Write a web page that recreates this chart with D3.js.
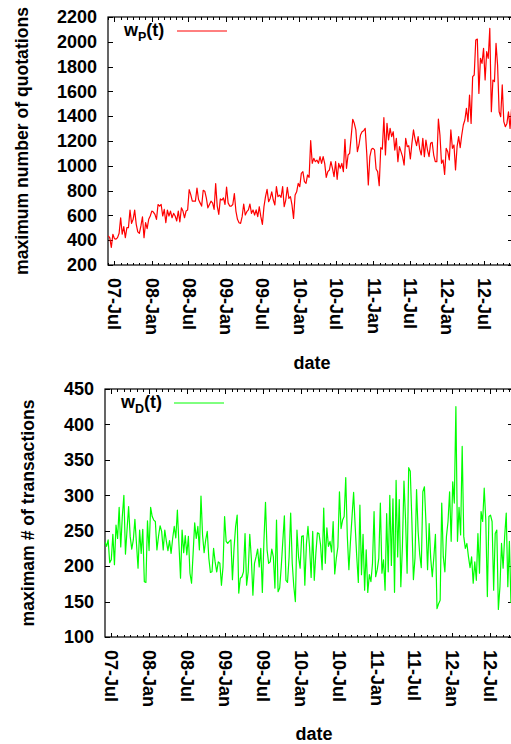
<!DOCTYPE html>
<html>
<head>
<meta charset="utf-8">
<script src="https://cdn.jsdelivr.net/npm/d3@7"></script>
<style>
body { margin: 0; background: #fff; }
svg text { font-family: "Liberation Sans", Arial, sans-serif; font-weight: bold; fill: #000; }
.tick text { font-size: 18px; }
</style>
</head>
<body>
<div class="chart"></div>
<script>
// maximum number of quotations, w_P(t) (evenly spaced samples)
var wpValues = [
  435, 421, 341, 448, 413, 408, 421, 456, 581, 448,
  509, 421, 501, 501, 643, 536, 568, 643, 528, 467,
  456, 515, 589, 421, 541, 493, 568, 595, 635, 627,
  608, 568, 688, 675, 688, 595, 648, 541, 643, 595,
  635, 581, 616, 595, 555, 635, 547, 661, 635, 581,
  635, 643, 808, 768, 715, 715, 715, 821, 728, 701,
  675, 803, 795, 741, 661, 688, 715, 701, 648, 856,
  675, 608, 733, 723, 741, 688, 829, 701, 675, 675,
  688, 776, 635, 568,
  541, 536, 590, 692, 603, 630, 644, 692, 617, 644,
  603, 644, 590, 670, 590, 528, 670, 751, 810, 711,
  737, 790, 724, 684, 832, 751, 764, 746, 832, 670,
  724, 826, 737, 751, 684, 576, 764, 790, 858, 832,
  939, 953, 872, 858, 926, 907, 1203, 1020, 1060, 1033,
  1046, 1020, 1074, 1020, 1074, 1020, 907, 953, 966, 1033,
  980, 912, 1033, 891, 1020, 980, 1020, 953, 1213, 980,
  1087, 1100, 1235, 1375, 1343, 1289, 1114, 1168, 1249, 1275,
  1283, 1302, 1100, 845, 1074, 1133, 1141, 1128,
  974, 953, 840, 1146, 1135, 1388, 1087, 1342, 1208, 1302,
  1235, 1275, 1127, 1221, 1033, 1154, 1114, 1074, 1006, 1221,
  1154, 1162, 1055, 1181, 1289, 1216, 1162, 1235, 1135, 1087,
  1221, 1074, 1208, 1127, 1074, 1181, 1189, 1087, 1033, 1033,
  1377, 1248, 1020, 1047, 931, 1141, 1114, 1047, 1289, 1141,
  1168, 966, 1154, 1235, 1146, 1248, 1329, 1369, 1463, 1356,
  1571, 1342, 1719, 1732, 2014, 2022, 1584, 1867, 1826, 1947,
  1692, 1920, 1867, 2108, 1436, 1692, 1679, 1987, 1813, 1436,
  1396, 1652, 1356, 1315, 1342, 1436, 1302, 1463
];

// maximum number of transactions, w_D(t)
var wdValues = [
  234, 228, 237, 205, 209, 245, 202, 258, 239, 283,
  227, 270, 300, 217, 251, 284, 242, 224, 237, 266,
  232, 197, 251, 218, 252, 178, 177, 264, 222, 283,
  270, 265, 263, 223, 242, 257, 249, 223, 251, 235,
  222, 236, 218, 239, 256, 240, 279, 231, 183, 251,
  219, 243, 216, 242, 190, 176, 218, 261, 239, 256,
  223, 299, 244, 219, 237, 249, 211, 191, 192, 225,
  206, 192, 206, 204, 173, 199, 270, 235, 232, 235,
  237, 181, 225, 256, 272,
  162, 183, 185, 192, 246, 173, 192, 245, 211, 159,
  204, 213, 224, 199, 225, 163, 235, 290, 223, 204,
  206, 224, 213, 169, 265, 164, 169, 199, 235, 271,
  180, 177, 213, 275, 204, 171, 150, 251, 213, 197,
  242, 243, 173, 231, 256, 227, 184, 249, 180, 218,
  247, 246, 230, 195, 282, 204, 254, 228, 235, 220,
  263, 189, 211, 227, 305, 253, 265, 270, 325, 242,
  195, 235, 270, 304, 256, 213, 177, 286, 188, 245,
  166, 223, 163, 188, 178, 204, 277, 185,
  195, 211, 289, 190, 209, 166, 274, 192, 300, 201,
  295, 163, 321, 213, 294, 171, 227, 320, 266, 190,
  339, 334, 266, 181, 211, 308, 249, 217, 198, 305,
  312, 260, 195, 260, 211, 185, 213, 245, 140, 147,
  152, 289, 213, 192, 242, 263, 305, 235, 319, 289,
  425, 235, 283, 244, 369, 242, 225, 232, 213, 198,
  213, 176, 206, 180, 246, 190, 277, 263, 310, 265,
  157, 270, 272, 263, 166, 246, 251, 139, 171, 232,
  197, 242, 275, 171, 235, 148
];

// first and last sample date of each series
var wpDates = ["2007-06-01", "2012-11-14"];
var wdDates = ["2007-06-02", "2012-10-10"];

var xTickLabels = ["07-Jul", "08-Jan", "08-Jul", "09-Jan", "09-Jul", "10-Jan",
                   "10-Jul", "11-Jan", "11-Jul", "12-Jan", "12-Jul"];
var wpYTicks = [200, 400, 600, 800, 1000, 1200, 1400, 1600, 1800, 2000, 2200];
var wdYTicks = [100, 150, 200, 250, 300, 350, 400, 450];

var parseDay = d3.timeParse("%Y-%m-%d");
var parseLabel = d3.timeParse("%y-%b");

/**
 * One gnuplot-like panel: framed box, inward ticks, rotated date labels
 */
function TimePanel(svg, cfg){
    var self = this;
    self.svg = svg;
    self.cfg = cfg;
    self.init();
};

TimePanel.prototype.init = function(){
    var self = this;
    var c = self.cfg;

    self.x = d3.scaleTime()
      .domain(c.xDomain.map(parseDay))
      .range([c.left, c.right]);

    self.y = d3.scaleLinear()
      .domain([c.yTicks[0], c.yTicks[c.yTicks.length - 1]])
      .range([c.bottom, c.top]);

    self.g = self.svg.append("g");
};

TimePanel.prototype.drawAxes = function(){
    var self = this;
    var c = self.cfg;
    var g = self.g;
    var noDomain = function(sel){ sel.select(".domain").remove(); };

    var majors = xTickLabels.map(parseLabel);
    var months = d3.timeMonth.range(self.x.domain()[0], self.x.domain()[1]);

    // monthly minor ticks, bottom and top
    g.append("g").attr("transform", "translate(0," + c.bottom + ")")
      .call(d3.axisBottom(self.x).tickValues(months).tickSize(-2.5).tickFormat(""))
      .call(noDomain);
    g.append("g").attr("transform", "translate(0," + c.top + ")")
      .call(d3.axisTop(self.x).tickValues(months).tickSize(-2.5).tickFormat(""))
      .call(noDomain);

    // half-year major ticks
    g.append("g").attr("transform", "translate(0," + c.bottom + ")")
      .call(d3.axisBottom(self.x).tickValues(majors).tickSize(-4.5)
        .tickFormat(function(d, i){ return xTickLabels[i]; }))
      .call(noDomain)
      .selectAll("text")
        .attr("transform", "rotate(90)")
        .attr("x", 13)
        .attr("y", 0)
        .attr("dy", "0.35em")
        .style("text-anchor", "start");
    g.append("g").attr("transform", "translate(0," + c.top + ")")
      .call(d3.axisTop(self.x).tickValues(majors).tickSize(-4.5).tickFormat(""))
      .call(noDomain);

    // y ticks left (labelled) and right
    g.append("g").attr("transform", "translate(" + c.left + ",0)")
      .call(d3.axisLeft(self.y).tickValues(c.yTicks).tickSize(-4.5).tickPadding(11)
        .tickFormat(d3.format("d")))
      .call(noDomain);
    g.append("g").attr("transform", "translate(" + c.right + ",0)")
      .call(d3.axisRight(self.y).tickValues(c.yTicks).tickSize(-4.5).tickFormat(""))
      .call(noDomain);

    g.selectAll(".tick line").attr("shape-rendering", "crispEdges");

    // frame
    g.append("rect")
      .attr("x", c.left)
      .attr("y", c.top)
      .attr("width", c.right - c.left)
      .attr("height", c.bottom - c.top)
      .attr("fill", "none")
      .attr("stroke", "#000")
      .attr("stroke-width", 1.2);

    // axis titles
    g.append("text")
      .attr("transform", "translate(" + c.yTitleX + "," + ((c.top + c.bottom) / 2) + ") rotate(-90)")
      .attr("text-anchor", "middle")
      .attr("font-size", 17.6)
      .text(c.yTitle);

    g.append("text")
      .attr("x", c.xTitleX)
      .attr("y", c.xTitleY)
      .attr("text-anchor", "middle")
      .attr("font-size", 18)
      .text("date");
};

TimePanel.prototype.drawSeries = function(values, dates){
    var self = this;
    var c = self.cfg;

    // samples are evenly spaced between first and last date
    var when = d3.scaleLinear()
      .domain([0, values.length - 1])
      .range(dates.map(function(s){ return +parseDay(s); }));

    var data = values.map(function(v, i){ return {date: new Date(when(i)), value: v}; });

    var clipId = "clip-" + c.name;
    self.svg.append("clipPath").attr("id", clipId)
      .append("rect")
        .attr("x", c.left).attr("y", c.top)
        .attr("width", c.right - c.left).attr("height", c.bottom - c.top);

    var line = d3.line()
      .x(function(d){ return self.x(d.date); })
      .y(function(d){ return self.y(d.value); });

    self.g.append("path")
      .datum(data)
      .attr("clip-path", "url(#" + clipId + ")")
      .attr("fill", "none")
      .attr("stroke", c.color)
      .attr("stroke-width", 1.2)
      .attr("stroke-linejoin", "round")
      .attr("d", line);

    // legend: w with subscript, then a line sample
    var lg = self.g.append("text")
      .attr("x", c.left + 16)
      .attr("y", c.top + 19)
      .attr("font-size", 18);
    lg.append("tspan").text("w");
    lg.append("tspan").attr("font-size", 12.5).attr("dy", 4.5).text(c.sub);
    lg.append("tspan").attr("dy", -4.5).text("(t)");

    self.g.append("line")
      .attr("x1", c.left + 69)
      .attr("x2", c.left + 119)
      .attr("y1", c.top + 14)
      .attr("y2", c.top + 14)
      .attr("stroke", c.color)
      .attr("stroke-width", 1);
};

var svg = d3.select(".chart").append("svg")
    .attr("width", 511)
    .attr("height", 744);

var quotePanel = new TimePanel(svg, {
    name: "wp", left: 108, right: 512, top: 17, bottom: 265,
    xDomain: ["2007-05-31", "2012-11-16"], yTicks: wpYTicks,
    yTitle: "maximum number of quotations", yTitleX: 28,
    xTitleX: 312, xTitleY: 369, color: "#ff0000", sub: "P"
});
quotePanel.drawAxes();
quotePanel.drawSeries(wpValues, wpDates);

var dealPanel = new TimePanel(svg, {
    name: "wd", left: 105, right: 512, top: 389, bottom: 637,
    xDomain: ["2007-06-02", "2012-10-15"], yTicks: wdYTicks,
    yTitle: "maximam # of transactions", yTitleX: 34,
    xTitleX: 314, xTitleY: 740, color: "#00ff00", sub: "D"
});
dealPanel.drawAxes();
dealPanel.drawSeries(wdValues, wdDates);
</script>
</body>
</html>
